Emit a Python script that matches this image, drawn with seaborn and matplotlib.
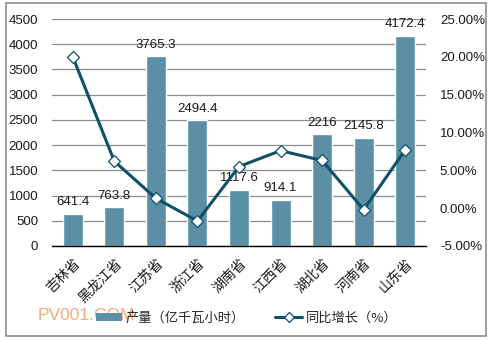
import numpy as np
import pandas as pd
import matplotlib
matplotlib.use("Agg")
import matplotlib.pyplot as plt
from matplotlib.patches import Rectangle, Patch
from matplotlib.lines import Line2D
from matplotlib.ticker import FuncFormatter
import seaborn as sns

provinces = ["吉林省", "黑龙江省", "江苏省", "浙江省", "湖南省", "江西省", "湖北省", "河南省", "山东省"]
output = [641.4, 763.8, 3765.3, 2494.4, 1117.6, 914.1, 2216, 2145.8, 4172.4]
growth = [20.0, 6.2, 1.3, -1.7, 5.5, 7.6, 6.3, -0.2, 7.7]
output_labels = ["641.4", "763.8", "3765.3", "2494.4", "1117.6", "914.1", "2216", "2145.8", "4172.4"]

bar_name = "产量（亿千瓦小时）"
line_name = "同比增长（%）"

sns.set_style("white")
plt.rcParams["font.family"] = ["Liberation Sans", "Noto Sans CJK SC", "DejaVu Sans"]

bar_color = "#5B8FA6"
line_color = "#0D5068"
text_color = "#1A1A1A"
cjk = ["Noto Sans CJK SC", "DejaVu Sans"]

fig = plt.figure(figsize=(4.96, 3.41), dpi=100)
ax = fig.add_axes([52 / 496, 1 - 246 / 341, 374 / 496, 227 / 341])

df = pd.DataFrame({"province": provinces, "output": output, "growth": growth})

sns.barplot(data=df, x="province", y="output", color=bar_color, width=0.48,
            saturation=1, ax=ax, zorder=2)

ax.set_ylim(0, 4500)
ax.set_yticks(np.arange(0, 4501, 500))
ax.yaxis.grid(True, color="#8C8C8C", linewidth=0.9, zorder=0)
ax.set_axisbelow(True)
ax.set_xlabel("")
ax.set_ylabel("")
for side in ["left", "right", "top"]:
    ax.spines[side].set_visible(False)
ax.spines["bottom"].set_color("#000000")
ax.spines["bottom"].set_linewidth(1.0)
ax.tick_params(axis="y", length=0, labelsize=9.5, labelcolor=text_color, pad=10)
ax.tick_params(axis="x", length=0, labelsize=10, labelcolor=text_color, pad=7)
ax.set_xticks(range(len(provinces)))
ax.set_xticklabels(provinces, rotation=45, ha="right", rotation_mode="anchor",
                   family=cjk)

for i, (v, lab) in enumerate(zip(output, output_labels)):
    ax.annotate(lab, (i, v), xytext=(0, 4), textcoords="offset points",
                ha="center", va="bottom", fontsize=9.5, color=text_color, zorder=3)

ax2 = ax.twinx()
sns.pointplot(data=df, x="province", y="growth", ax=ax2, color=line_color,
              markers="D", markersize=6, linewidth=2.2,
              markerfacecolor="white", markeredgecolor=line_color,
              markeredgewidth=0.9)
ax2.set_ylim(-5, 25)
ax2.set_yticks(np.arange(-5, 26, 5))
ax2.yaxis.set_major_formatter(FuncFormatter(lambda v, p: f"{v:.2f}%"))
ax2.set_xlim(ax.get_xlim())
ax2.set_xlabel("")
ax2.set_ylabel("")
ax2.grid(False)
for side in ["left", "right", "top", "bottom"]:
    ax2.spines[side].set_visible(False)
ax2.tick_params(axis="y", length=0, labelsize=9.5, labelcolor=text_color, pad=10)

handles = [
    Patch(facecolor=bar_color, edgecolor="none"),
    Line2D([0], [0], color=line_color, linewidth=2.2, marker="D", markersize=5,
           markerfacecolor="white", markeredgecolor=line_color, markeredgewidth=0.9),
]
fig.legend(handles, [bar_name, line_name], loc="center", bbox_to_anchor=(0.497, 1 - 318 / 341),
           ncol=2, frameon=False, handlelength=2.0, handleheight=0.5,
           columnspacing=2.3, handletextpad=0.3,
           prop={"family": cjk, "size": 9.5})

fig.text(38 / 496, 1 - 316 / 341, "PV001.COM", color="#F59A60", alpha=0.85,
         fontsize=12.5, ha="left", va="center", zorder=5)

fig.patches.append(Rectangle((6 / 496, 1 - 336 / 341), 480 / 496, 333 / 341,
                             transform=fig.transFigure, fill=False,
                             edgecolor="#8C8C8C", linewidth=1.2))

fig.savefig("out.png", dpi=100)
